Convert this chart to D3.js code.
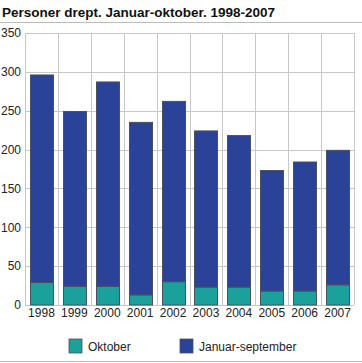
<!DOCTYPE html>
<html>
<head>
<meta charset="utf-8">
<script src="https://cdn.jsdelivr.net/npm/d3@7"></script>
<style>
  body { margin: 0; background: #fff; }
  svg { display: block; font-family: "Liberation Sans", Arial, sans-serif; }
</style>
</head>
<body>
<svg id="chart" width="362" height="363"></svg>
<script>
// chart data
const years = ['1998', '1999', '2000', '2001', '2002', '2003', '2004', '2005', '2006', '2007'];
const oktober = [29, 24, 24, 13, 30, 23, 23, 18, 18, 26];
const janSep = [267, 225, 263, 222, 232, 201, 195, 155, 166, 173];
const yTicks = [0, 50, 100, 150, 200, 250, 300, 350];
const seriesNames = ['Oktober', 'Januar-september'];
const colors = ['#1aa19c', '#2a4297'];

const svg = d3.select('#chart');
const plotL = 25, plotR = 354, plotT = 33, plotB = 305;

// title + rule under it
svg.append('text')
  .attr('x', 2).attr('y', 17)
  .attr('font-size', 13.5).attr('font-weight', 'bold').attr('fill', '#111')
  .text('Personer drept. Januar-oktober. 1998-2007');
svg.append('line')
  .attr('x1', 0).attr('x2', 362).attr('y1', 22.5).attr('y2', 22.5)
  .attr('stroke', '#bbb').attr('stroke-width', 1);

const x = d3.scaleBand().domain(years).range([plotL, plotR]).paddingInner(0.3).paddingOuter(0.15);
const xEdge = d3.scaleBand().domain(years).range([plotL, plotR]);
const y = d3.scaleLinear().domain([0, 350]).range([plotB, plotT]);

// grid
const grid = svg.append('g').attr('stroke', '#c8c8c8').attr('stroke-width', 1);
grid.selectAll('.h').data(yTicks).join('line')
  .attr('x1', plotL).attr('x2', plotR)
  .attr('y1', d => Math.round(y(d)) + 0.5).attr('y2', d => Math.round(y(d)) + 0.5);
grid.selectAll('.v').data(years.concat(['end'])).join('line')
  .attr('x1', (d, i) => Math.round(plotL + i * xEdge.step()) + 0.5)
  .attr('x2', (d, i) => Math.round(plotL + i * xEdge.step()) + 0.5)
  .attr('y1', plotT).attr('y2', plotB);

// stacked bars
const rows = years.map((yr, i) => ({ year: yr, Oktober: oktober[i], 'Januar-september': janSep[i] }));
const stacked = d3.stack().keys(seriesNames)(rows);
svg.append('g').selectAll('g').data(stacked).join('g')
  .attr('fill', (d, i) => colors[i])
  .selectAll('rect').data(d => d).join('rect')
  .attr('x', d => Math.round(x(d.data.year)) + 0.5)
  .attr('width', Math.round(x.bandwidth()))
  .attr('y', d => y(d[1]))
  .attr('height', d => y(d[0]) - y(d[1]))
  .attr('stroke', '#4a5060').attr('stroke-width', 1);

// axes labels
const axY = svg.append('g').attr('transform', `translate(${plotL - 4},0)`)
  .call(d3.axisLeft(y).tickValues(yTicks).tickSize(0).tickPadding(0))
  .attr('font-family', null).attr('font-size', 12);
axY.select('.domain').remove();
axY.selectAll('text').attr('fill', '#222');

const axX = svg.append('g').attr('transform', `translate(0,${plotB})`)
  .call(d3.axisBottom(xEdge).tickSize(0).tickPadding(3))
  .attr('font-family', null).attr('font-size', 12);
axX.select('.domain').remove();
axX.selectAll('text').attr('fill', '#222');

// legend
const legendX = [69, 180];
const lg = svg.append('g').selectAll('g').data(seriesNames).join('g')
  .attr('transform', (d, i) => `translate(${legendX[i]},339)`);
lg.append('rect').attr('width', 13).attr('height', 14)
  .attr('fill', (d, i) => colors[i]).attr('stroke', '#4a5060').attr('stroke-width', 0.8);
lg.append('text').attr('x', 19).attr('y', 11.5)
  .attr('font-size', 12).attr('fill', '#222').text(d => d);

svg.append('line')
  .attr('x1', 0).attr('x2', 362).attr('y1', 361.5).attr('y2', 361.5)
  .attr('stroke', '#bbb').attr('stroke-width', 1);
</script>
</body>
</html>
